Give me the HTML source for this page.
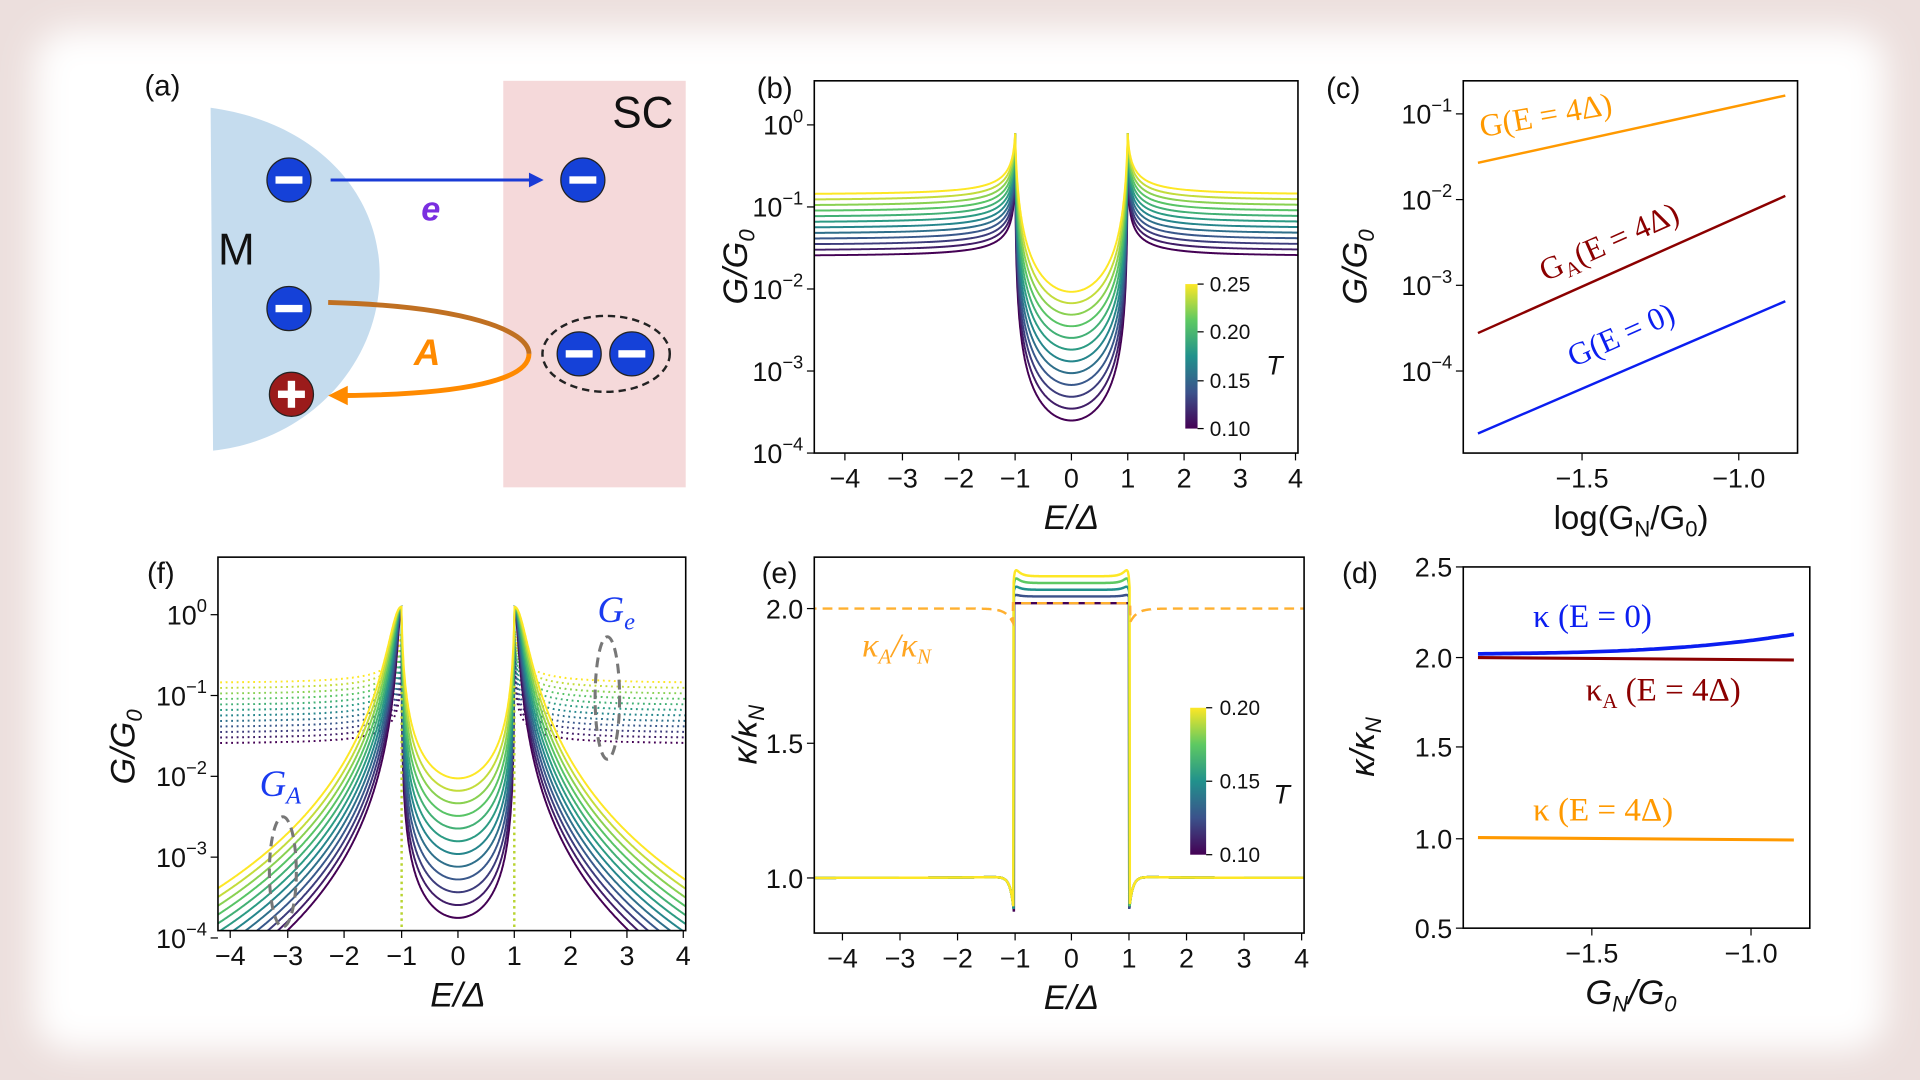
<!DOCTYPE html>
<html><head><meta charset="utf-8">
<style>
html,body{margin:0;padding:0;width:1920px;height:1080px;overflow:hidden;background:#efe7e5;}
svg{display:block;position:absolute;left:0;top:0}
text{font-family:"Liberation Sans","DejaVu Sans",sans-serif;fill:#111}
</style></head><body>
<svg id="s" width="1920" height="1080" viewBox="0 0 1568 882" xmlns="http://www.w3.org/2000/svg">
<defs>
<filter id="bl"><feGaussianBlur stdDeviation="14"/></filter>
<linearGradient id="vir" x1="0" y1="1" x2="0" y2="0">
<stop offset="0" stop-color="#440154"/><stop offset="0.25" stop-color="#3b528b"/><stop offset="0.5" stop-color="#21918c"/><stop offset="0.75" stop-color="#5ec962"/><stop offset="1" stop-color="#fde725"/></linearGradient>
</defs>
<rect x="0" y="0" width="1568" height="882" fill="#ecdfdd"/>
<rect x="28" y="24" width="1512" height="834" rx="30" fill="#fff" filter="url(#bl)"/>
<g id="g"></g>
</svg>
<script>
const g=document.getElementById('g');let h='';
function A(s){h+=s;}
function vir(t){const st=[[68,1,84],[59,82,139],[33,145,140],[94,201,98],[253,231,37]];t=Math.max(0,Math.min(1,t));const f=t*4,i=Math.min(3,Math.floor(f)),r=f-i;const c=st[i].map((v,k)=>Math.round(v+(st[i+1][k]-v)*r));return `rgb(${c})`;}
function txt(x,y,s,style,attrs=''){A(`<text x="${x}" y="${y}" style="${style||''}" ${attrs}>${s}</text>`);}
function box(x0,y0,x1,y1){A(`<rect x="${x0}" y="${y0}" width="${x1-x0}" height="${y1-y0}" fill="none" stroke="#000" stroke-width="1.3"/>`);}
function sup(b,e){return `${b}<tspan dy="-10" font-size="15">${e}</tspan>`;}
function ylog(x,ys,exps){ys.forEach((y,i)=>{A(`<line x1="${x-6}" y1="${y}" x2="${x}" y2="${y}" stroke="#000"/>`);txt(x-9,y+8,sup('10',exps[i]),'font-size:22px','text-anchor="end"');});}
function xt(y,xs,labs){xs.forEach((x,i)=>{A(`<line x1="${x}" y1="${y}" x2="${x}" y2="${y+6}" stroke="#000"/>`);txt(x,y+28,labs[i],'font-size:22px','text-anchor="middle"');});}
function yt(x,ys,labs){ys.forEach((y,i)=>{A(`<line x1="${x-6}" y1="${y}" x2="${x}" y2="${y}" stroke="#000"/>`);txt(x-9,y+8,labs[i],'font-size:22px','text-anchor="end"');});}
function path(pts,col,w,extra=''){let d='';pts.forEach((p,i)=>{d+=(i?'L':'M')+p[0].toFixed(1)+','+p[1].toFixed(1);});A(`<path d="${d}" fill="none" stroke="${col}" stroke-width="${w}" ${extra}/>`);}
function clip(id,x0,y0,x1,y1){A(`<clipPath id="${id}"><rect x="${x0}" y="${y0}" width="${x1-x0}" height="${y1-y0}"/></clipPath>`);}
function rot(x,y,s,style){txt(x,y,s,style,`transform="rotate(-90 ${x} ${y})" text-anchor="middle"`);}
const mi='−';
const LAB='font-size:28px;font-style:italic';
// ---------- panel a
txt(118,78,'(a)','font-size:24px');
A(`<rect x="411" y="66" width="149" height="332" fill="#f5d9da"/>`);
A(`<path d="M172,88 C260,100 312,160 310,228 C308,300 250,360 174,368 Z" fill="#c5dcee"/>`);
txt(500,104,'SC','font-size:36px');txt(178,216,'M','font-size:36px');
function el(x,y,plus){A(`<circle cx="${x}" cy="${y}" r="18" fill="${plus?'#9b1b1b':'#1541d8'}" stroke="#222" stroke-width="1"/><rect x="${x-11}" y="${y-3}" width="22" height="6" fill="#fff"/>`);if(plus)A(`<rect x="${x-3}" y="${y-11}" width="6" height="22" fill="#fff"/>`);}
A(`<line x1="270" y1="147" x2="436" y2="147" stroke="#1a3bd6" stroke-width="2.5"/><polygon points="444,147 432,141 432,153" fill="#1a3bd6"/>`);
txt(344,180,'e','font-size:28px;fill:#7a2ee0;font-weight:bold;font-style:italic');
A(`<path d="M268,247 C380,250 432,270 432,289" fill="none" stroke="#c07022" stroke-width="4"/><path d="M432,289 C432,310 380,322 282,323" fill="none" stroke="#ff8a00" stroke-width="4"/><polygon points="268,323 284,315 284,331" fill="#ff8a00"/>`);
txt(338,298,'A','font-size:30px;fill:#ff8a00;font-weight:bold;font-style:italic');
el(236,147);el(476,147);el(236,252);el(238,322,true);el(473,289);el(516,289);
A(`<ellipse cx="495" cy="289" rx="52" ry="31" fill="none" stroke="#222" stroke-width="2" stroke-dasharray="6,4"/>`);
// ---------- panel b
txt(618,80,'(b)','font-size:24px');
clip('cb',665,66,1060,370);
function yb(v){return 102-67*Math.log10(v);}
A('<g clip-path="url(#cb)">');
const N=12;
for(let i=0;i<N;i++){const t=i/(N-1);const Gn=Math.pow(10,-1.6+0.75*t),Gm=Math.pow(10,-3.6+1.6*t);const pk=0.79;const e1=(Gn/pk)**2,e2=Math.pow(Gm/pk,2/3);
const pts=[];for(let E=-4.6;E<=4.6;E+=0.005){const a=Math.abs(E);let G;if(a>=1)G=Gn*a/Math.sqrt(a*a-1+e1);else G=Gm/Math.pow(1-a*a+e2,1.5);pts.push([875+46*E,yb(G)]);}
path(pts,vir(t),1.6);}
A('</g>');box(665,66,1060,370);
ylog(665,[102,169,236,303,370],['0',mi+'1',mi+'2',mi+'3',mi+'4']);
xt(370,[690,737,783,829,875,921,967,1013,1058],[mi+'4',mi+'3',mi+'2',mi+'1','0','1','2','3','4']);
A(`<rect x="968" y="232" width="10" height="118" fill="url(#vir)"/>`);
[[232,'0.25'],[271,'0.20'],[311,'0.15'],[350,'0.10']].forEach(a=>{A(`<line x1="978" y1="${a[0]}" x2="983" y2="${a[0]}" stroke="#000"/>`);txt(988,a[0]+6,a[1],'font-size:17px');});
txt(1034,306,'T','font-size:22px;font-style:italic');
rot(610,218,'G/G<tspan font-size="18" dy="6">0</tspan>',LAB);
txt(875,432,'E/Δ',LAB,'text-anchor="middle"');
// ---------- panel c
txt(1083,80,'(c)','font-size:24px');
box(1195,66,1468,370);
ylog(1195,[93,163,233,303],[mi+'1',mi+'2',mi+'3',mi+'4']);
xt(370,[1292,1420],[mi+'1.5',mi+'1.0']);
path([[1207,133],[1458,78]],'#ff9900',2);path([[1207,272],[1458,160]],'#8b0000',2);path([[1207,354],[1458,246]],'#0b1ef0',2);
const SER='font-size:26px;font-family:Liberation Serif;';
txt(1210,112,'G(E = 4Δ)',SER+'fill:#ff9900','transform="rotate(-10 1210 112)"');
txt(1262,230,'G<tspan font-size="17" dy="5">A</tspan><tspan dy="-5">(E = 4Δ)</tspan>',SER+'fill:#8b0000','transform="rotate(-24 1262 230)"');
txt(1285,300,'G(E = 0)',SER+'fill:#0b1ef0','transform="rotate(-24 1285 300)"');
rot(1116,218,'G/G<tspan font-size="18" dy="6">0</tspan>',LAB);
txt(1332,432,'log(G<tspan font-size="18" dy="6">N</tspan><tspan dy="-6">/G</tspan><tspan font-size="18" dy="6">0</tspan><tspan dy="-6">)</tspan>','font-size:27px','text-anchor="middle"');
// ---------- panel f
txt(120,476,'(f)','font-size:24px');
clip('cf',178,455,560,760);
function yf(v){return 502-66*Math.log10(v);}
A('<g clip-path="url(#cf)">');
for(let i=0;i<N;i++){const t=i/(N-1);const Gn=Math.pow(10,-1.6+0.75*t);const e1=(Gn/0.79)**2;const pts=[];
for(let E=-4.3;E<=4.3;E+=0.01){const a=Math.abs(E);if(a>1.005){pts.push([374+46.2*E,yf(Gn*a/Math.sqrt(a*a-1+e1))]);}else if(pts.length&&E<0){path(pts,vir(t),1.6,'stroke-dasharray="1.5,3"');pts.length=0;}}
path(pts,vir(t),1.6,'stroke-dasharray="1.5,3"');}
for(let i=0;i<N;i++){const t=i/(N-1);const Am=Math.pow(10,-2.0+1.2*t),Gm=Math.pow(10,-3.75+1.75*t);const pk=1.25;const e1=Math.sqrt(Am/pk),e2=Math.pow(Gm/pk,2/3);
const pts=[];for(let E=-4.3;E<=4.3;E+=0.004){const a=Math.abs(E);let G;if(a>=1)G=Am/((a*a-1)**2.1+e1*e1);else G=Gm/Math.pow(1-a*a+e2,1.5);pts.push([374+46.2*E,yf(G)]);}
path(pts,vir(t),1.6);}
A(`<line x1="328" y1="560" x2="328" y2="760" stroke="#b8d430" stroke-width="2" stroke-dasharray="2,3"/><line x1="420" y1="560" x2="420" y2="760" stroke="#b8d430" stroke-width="2" stroke-dasharray="2,3"/>`);
A('</g>');box(178,455,560,760);
ylog(178,[502,568,634,700,766],['0',mi+'1',mi+'2',mi+'3',mi+'4']);
xt(760,[188,235,281,328,374,420,466,512,558],[mi+'4',mi+'3',mi+'2',mi+'1','0','1','2','3','4']);
A(`<ellipse cx="496" cy="570" rx="10" ry="50" fill="none" stroke="#777" stroke-width="2.5" stroke-dasharray="8,5"/><ellipse cx="231" cy="712" rx="11" ry="45" fill="none" stroke="#777" stroke-width="2.5" stroke-dasharray="8,5"/>`);
txt(488,508,'G<tspan font-size="20" dy="6">e</tspan>','font-size:30px;font-family:Liberation Serif;font-style:italic;fill:#1a3bf0');
txt(212,650,'G<tspan font-size="20" dy="6">A</tspan>','font-size:30px;font-family:Liberation Serif;font-style:italic;fill:#1a3bf0');
rot(110,610,'G/G<tspan font-size="18" dy="6">0</tspan>',LAB);
txt(374,822,'E/Δ',LAB,'text-anchor="middle"');
// ---------- panel e
txt(622,476,'(e)','font-size:24px');
clip('ce',665,455,1065,762);
function ye(v){return 717-220*(v-1);}
A('<g clip-path="url(#ce)">');
const EC=[0,0.25,0.5,0.75,1];
EC.forEach((t,i)=>{const top=2.02+0.1*t;const pts=[];for(let E=-4.6;E<=4.6;E+=0.005){const a=Math.abs(E);let k;if(a>1.0+0.01*t){k=1.0-0.13*Math.exp(-(a-1)/0.06)+0.005*Math.exp(-(a-1));}else{k=top+0.05*t*Math.exp(-(1-a)/0.08)-0.06*t*Math.exp(-(1-a)/0.02);}pts.push([875+47*E,ye(k)]);}path(pts,vir(t),2);});
{const pts=[];for(let E=-4.6;E<=4.6;E+=0.005){const a=Math.abs(E);let k;if(a>1.02)k=2.0-0.06*Math.exp(-(a-1)/0.12);else k=2.02;pts.push([875+47*E,ye(k)]);}path(pts,'#ffb030',2,'stroke-dasharray="8,5"');}
A('</g>');box(665,455,1065,762);
yt(665,[497,607,717],['2.0','1.5','1.0']);
xt(762,[688,735,782,829,875,922,969,1016,1063],[mi+'4',mi+'3',mi+'2',mi+'1','0','1','2','3','4']);
A(`<rect x="972" y="578" width="13" height="120" fill="url(#vir)"/>`);
[[578,'0.20'],[638,'0.15'],[698,'0.10']].forEach(a=>{A(`<line x1="985" y1="${a[0]}" x2="990" y2="${a[0]}" stroke="#000"/>`);txt(996,a[0]+6,a[1],'font-size:17px');});
txt(1040,656,'T','font-size:22px;font-style:italic');
txt(704,536,'κ<tspan font-size="17" dy="6">A</tspan><tspan dy="-6">/κ</tspan><tspan font-size="17" dy="6">N</tspan>','font-size:28px;font-family:Liberation Serif;font-style:italic;fill:#ffa520');
rot(618,600,'κ/κ<tspan font-size="18" dy="6">N</tspan>',LAB);
txt(875,824,'E/Δ',LAB,'text-anchor="middle"');
// ---------- panel d
txt(1096,476,'(d)','font-size:24px');
box(1195,463,1478,758);
yt(1195,[463,537,610,685,758],['2.5','2.0','1.5','1.0','0.5']);
xt(758,[1300,1430],[mi+'1.5',mi+'1.0']);
{const pts=[];for(let x=1207;x<=1465;x+=3){const u=(x-1207)/258;pts.push([x,534-3*u-13*u*u*u]);}path(pts,'#0b1ef0',3);}
path([[1207,537],[1465,539]],'#8b0000',2.5);path([[1207,684],[1465,686]],'#ff9900',2.5);
const SER2='font-size:27px;font-family:Liberation Serif;';
txt(1252,512,'κ (E = 0)',SER2+'fill:#0b1ef0');
txt(1295,572,'κ<tspan font-size="17" dy="6">A</tspan><tspan dy="-6"> (E = 4Δ)</tspan>',SER2+'fill:#8b0000');
txt(1252,670,'κ (E = 4Δ)',SER2+'fill:#ff9900');
rot(1122,610,'κ/κ<tspan font-size="18" dy="6">N</tspan>',LAB);
txt(1332,820,'G<tspan font-size="18" dy="6">N</tspan><tspan dy="-6">/G</tspan><tspan font-size="18" dy="6">0</tspan>',LAB,'text-anchor="middle"');
g.innerHTML=h;
</script>
</body></html>
